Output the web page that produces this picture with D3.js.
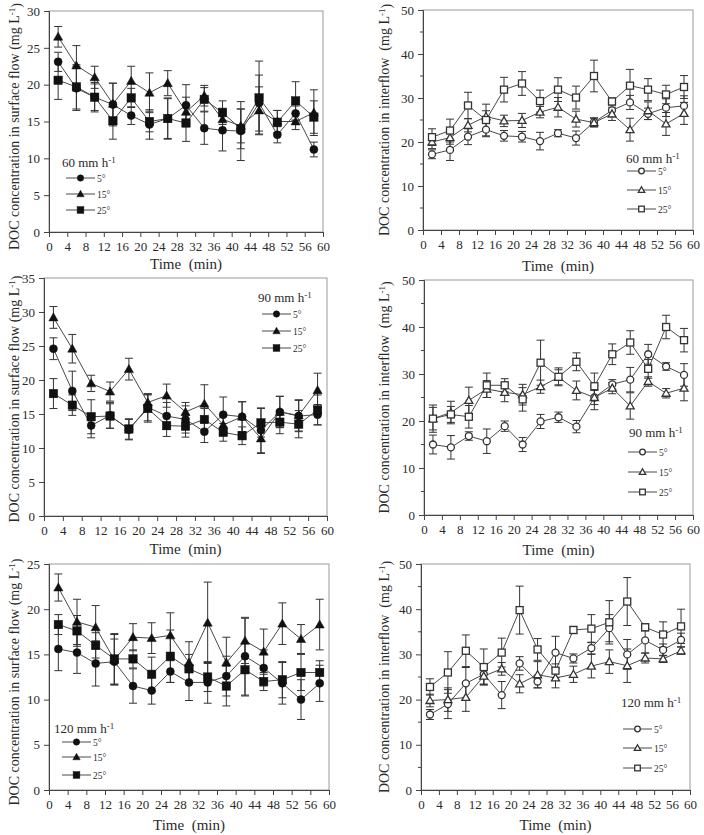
<!DOCTYPE html>
<html>
<head>
<meta charset="utf-8">
<script src="https://cdn.jsdelivr.net/npm/d3@7"></script>
<style>
body { margin: 0; background: #fff; }
svg text { font-family: "Liberation Serif", "Times New Roman", serif; fill: #2a2a2a; }
</style>
</head>
<body>
<script>
var times = [2, 6, 10, 14, 18, 22, 26, 30, 34, 38, 42, 46, 50, 54, 58],
    xTicks = d3.range(0, 61, 4),
    slopes = ["5°", "15°", "25°"]

// surface flow, 60 mm h-1
var sf60_5 = [23.1, 19.5, 18.3, 17.3, 15.8, 14.6, 15.4, 17.2, 14.1, 13.8, 13.7, 17.5, 13.2, 16.1, 11.2],
    sf60_5e = [1.3, 3.0, 1.8, 2.9, 1.2, 2.0, 2.8, 2.8, 2.2, 2.8, 4.0, 3.8, 1.1, 1.0, 1.0],
    sf60_15 = [26.5, 22.6, 21.0, 17.4, 20.5, 18.9, 20.2, 16.3, 18.5, 15.3, 14.4, 16.5, 15.0, 15.0, 16.2],
    sf60_15e = [1.4, 2.7, 1.5, 2.8, 2.0, 2.7, 1.7, 2.0, 1.4, 1.5, 2.3, 3.2, 1.5, 1.1, 3.1],
    sf60_25 = [20.6, 19.7, 18.3, 15.1, 18.2, 15.0, 15.4, 14.8, 18.0, 16.2, 14.0, 18.2, 14.9, 17.8, 15.6],
    sf60_25e = [2.6, 3.0, 2.0, 2.5, 1.3, 1.4, 2.7, 2.5, 1.6, 1.6, 2.7, 5.0, 1.6, 2.6, 2.2]

// interflow, 60 mm h-1
var if60_5 = [17.2, 18.2, 21.2, 22.8, 21.4, 21.2, 20.2, 22.0, 20.9, 24.5, 27.2, 29.0, 26.4, 27.8, 28.2],
    if60_5e = [1.0, 2.4, 1.8, 1.6, 1.2, 1.2, 2.0, 0.8, 1.6, 1.0, 1.5, 1.6, 1.3, 2.0, 2.3],
    if60_15 = [20.0, 21.0, 23.8, 25.8, 24.8, 24.9, 26.8, 27.9, 25.2, 24.4, 26.4, 22.8, 27.1, 24.1, 26.5],
    if60_15e = [1.5, 1.5, 1.5, 1.3, 1.3, 1.6, 1.3, 2.2, 1.8, 1.0, 1.5, 2.6, 2.0, 2.6, 2.5],
    if60_25 = [21.1, 22.6, 28.3, 25.0, 31.9, 33.3, 29.3, 31.9, 30.1, 35.0, 29.2, 32.8, 31.9, 30.8, 32.5],
    if60_25e = [1.9, 2.6, 3.0, 3.6, 2.8, 2.7, 2.5, 2.7, 2.6, 3.6, 0.8, 3.7, 2.5, 2.1, 2.6]

// surface flow, 90 mm h-1
var sf90_5 = [24.6, 18.4, 13.3, 14.8, 12.7, 16.0, 14.7, 14.2, 12.4, 14.9, 14.6, 12.6, 15.3, 14.7, 14.9],
    sf90_5e = [1.6, 2.9, 1.8, 1.9, 1.5, 2.0, 2.0, 2.0, 1.6, 2.6, 2.2, 3.3, 2.3, 2.3, 1.5],
    sf90_15 = [29.2, 24.6, 19.5, 18.3, 21.6, 16.7, 17.7, 15.3, 16.5, 13.4, 14.6, 11.4, 15.3, 14.8, 18.5],
    sf90_15e = [1.6, 2.1, 1.2, 1.4, 1.6, 1.2, 1.7, 1.4, 2.8, 1.3, 2.2, 2.2, 2.3, 2.3, 2.5],
    sf90_25 = [18.0, 16.3, 14.6, 14.7, 12.8, 15.8, 13.3, 13.2, 14.2, 12.3, 11.8, 13.7, 13.8, 13.5, 15.6],
    sf90_25e = [2.2, 1.5, 2.5, 1.8, 1.5, 2.0, 1.6, 1.6, 1.6, 1.3, 1.3, 2.1, 1.7, 2.0, 2.2]

// interflow, 90 mm h-1
var if90_5 = [15.0, 14.4, 16.8, 15.7, 18.9, 15.0, 19.9, 20.8, 18.8, 25.0, 27.8, 28.8, 34.2, 31.6, 29.8],
    if90_5e = [2.0, 2.5, 0.9, 2.6, 1.1, 1.5, 1.5, 1.1, 1.3, 2.6, 1.0, 2.6, 2.1, 0.8, 2.4],
    if90_15 = [20.5, 21.8, 24.4, 26.8, 26.1, 25.6, 27.3, 29.3, 26.5, 25.0, 27.0, 23.2, 28.4, 25.9, 27.0],
    if90_15e = [2.4, 2.4, 2.8, 1.8, 2.0, 2.2, 1.4, 1.6, 2.0, 1.5, 1.2, 2.8, 1.0, 1.0, 2.7],
    if90_25 = [20.5, 21.4, 20.9, 27.6, 27.6, 24.6, 32.4, 29.4, 32.6, 27.4, 34.2, 36.7, 31.1, 40.0, 37.2],
    if90_25e = [2.9, 1.7, 2.4, 2.6, 1.4, 2.5, 4.8, 1.9, 1.9, 2.8, 2.2, 2.5, 2.0, 2.5, 2.5]

// surface flow, 120 mm h-1
var sf120_5 = [15.6, 15.2, 14.0, 14.2, 11.5, 11.0, 13.1, 11.9, 11.9, 12.6, 14.8, 13.5, 11.8, 10.0, 11.8],
    sf120_5e = [2.4, 2.3, 2.5, 2.5, 1.9, 1.5, 1.2, 2.0, 2.3, 2.2, 4.3, 2.0, 2.3, 2.2, 2.0],
    sf120_15 = [22.4, 18.6, 18.0, 14.4, 16.9, 16.8, 17.1, 14.1, 18.5, 14.1, 16.5, 15.3, 18.4, 16.7, 18.3],
    sf120_15e = [1.5, 2.5, 2.4, 2.8, 1.5, 1.7, 2.5, 2.3, 4.5, 2.8, 2.5, 2.5, 2.3, 1.6, 2.8],
    sf120_25 = [18.3, 17.6, 16.0, 14.5, 14.5, 12.8, 14.8, 13.4, 12.5, 11.5, 13.3, 12.0, 12.2, 13.0, 13.0],
    sf120_25e = [1.1, 1.7, 1.4, 2.8, 1.0, 1.9, 2.9, 1.6, 1.6, 2.2, 2.9, 1.0, 2.0, 2.0, 1.3]

// interflow, 120 mm h-1
var if120_5 = [16.7, 19.0, 23.6, 25.6, 21.0, 28.0, 24.0, 30.4, 29.1, 31.4, 35.8, 30.0, 33.1, 31.0, 33.2],
    if120_5e = [1.1, 3.2, 3.5, 2.2, 3.0, 1.5, 1.4, 3.6, 1.0, 1.3, 3.0, 3.3, 2.8, 1.3, 1.5],
    if120_15 = [19.8, 20.0, 20.5, 25.2, 26.8, 23.5, 25.5, 24.8, 25.6, 27.4, 28.4, 27.5, 29.2, 29.0, 30.8],
    if120_15e = [1.4, 2.6, 3.1, 1.8, 1.4, 2.0, 2.9, 2.2, 1.8, 2.6, 2.6, 3.7, 1.1, 0.8, 0.8],
    if120_25 = [22.8, 26.0, 30.8, 27.2, 30.4, 39.8, 31.1, 26.4, 35.4, 35.7, 37.1, 41.7, 36.0, 34.4, 36.2],
    if120_25e = [1.8, 4.6, 3.5, 4.0, 3.2, 5.3, 2.4, 1.5, 0.8, 3.1, 4.8, 5.3, 0.8, 2.8, 3.8]

var panels = [
  { l: 49, r: 323, t: 11, b: 232, ymax: 30, step: 5, minor: false, flow: "surface flow", rate: "60",
    open: false, series: [[sf60_5, sf60_5e], [sf60_15, sf60_15e], [sf60_25, sf60_25e]],
    labX: 14, labDy: 5, titleDy: 37, leg: { x: 62, y: 167, lx: 66, rows: [178, 194, 210] } },
  { l: 423, r: 693, t: 10, b: 230, ymax: 50, step: 10, minor: true, flow: "interflow", rate: "60",
    open: true, series: [[if60_5, if60_5e], [if60_15, if60_15e], [if60_25, if60_25e]],
    labX: 384, labDy: 0, titleDy: 41, leg: { x: 626, y: 163, lx: 627, rows: [171, 190, 209] } },
  { l: 44, r: 327, t: 278, b: 516, ymax: 35, step: 5, minor: false, flow: "surface flow", rate: "90",
    open: false, series: [[sf90_5, sf90_5e], [sf90_15, sf90_15e], [sf90_25, sf90_25e]],
    labX: 14, labDy: 2, titleDy: 38, leg: { x: 258, y: 302, lx: 262, rows: [314, 331, 348] } },
  { l: 424, r: 693, t: 280, b: 515, ymax: 50, step: 10, minor: true, flow: "interflow", rate: "90",
    open: true, series: [[if90_5, if90_5e], [if90_15, if90_15e], [if90_25, if90_25e]],
    labX: 384, labDy: 0, titleDy: 40, leg: { x: 629, y: 437, lx: 628, rows: [452, 472, 492] } },
  { l: 49, r: 329, t: 564, b: 790, ymax: 25, step: 5, minor: false, flow: "surface flow", rate: "120",
    open: false, series: [[sf120_5, sf120_5e], [sf120_15, sf120_15e], [sf120_25, sf120_25e]],
    labX: 14, labDy: 5, titleDy: 40, leg: { x: 54, y: 733, lx: 62, rows: [742, 757, 775] } },
  { l: 421, r: 690, t: 564, b: 790, ymax: 50, step: 10, minor: true, flow: "interflow", rate: "120",
    open: true, series: [[if120_5, if120_5e], [if120_15, if120_15e], [if120_25, if120_25e]],
    labX: 384, labDy: 0, titleDy: 40, leg: { x: 621, y: 707, lx: 623, rows: [729, 748, 768] } }
]

var svg = d3.select("body").append("svg")
    .attr("width", 704)
    .attr("height", 835)

var lineCol = "#4a4a4a"

function drawMarker(g, kind, open, cx, cy, sc) {
  sc = sc || 1
  var fill = open ? "#fff" : "#111"
  var stroke = open ? "#333" : "#111"
  var sw = open ? 1.3 : 0.5
  if (kind == 0) {
    g.append("circle").attr("cx", cx).attr("cy", cy).attr("r", (open ? 3.5 : 4) * sc)
      .attr("fill", fill).attr("stroke", stroke).attr("stroke-width", sw)
  } else if (kind == 1) {
    var s = (open ? 4 : 4.6) * sc
    g.append("path")
      .attr("d", "M" + cx + "," + (cy - s) + "L" + (cx + s) + "," + (cy + s * 0.75) + "L" + (cx - s) + "," + (cy + s * 0.75) + "Z")
      .attr("fill", fill).attr("stroke", stroke).attr("stroke-width", sw)
  } else {
    var h = (open ? 3.5 : 4.2) * sc
    g.append("rect").attr("x", cx - h).attr("y", cy - h).attr("width", 2 * h).attr("height", 2 * h)
      .attr("fill", fill).attr("stroke", stroke).attr("stroke-width", sw)
  }
}

panels.forEach(function(p) {
  var x = d3.scaleLinear().domain([0, 60]).range([p.l, p.r])
  var y = d3.scaleLinear().domain([0, p.ymax]).range([p.b, p.t])
  var g = svg.append("g")

  // frame
  g.append("rect").attr("x", p.l).attr("y", p.t).attr("width", p.r - p.l).attr("height", p.b - p.t)
    .attr("fill", "none").attr("stroke", "#9a9a9a").attr("stroke-width", 1)

  // minor y ticks
  if (p.minor) {
    var minors = d3.range(p.step / 2, p.ymax, p.step)
    g.selectAll(".minor").data(minors).enter().append("line")
      .attr("x1", p.l - 3).attr("x2", p.l)
      .attr("y1", function(d) { return y(d) }).attr("y2", function(d) { return y(d) })
      .attr("stroke", "#444")
  }

  var yAxis = g.append("g").attr("transform", "translate(" + p.l + ",0)")
    .call(d3.axisLeft(y).tickValues(d3.range(0, p.ymax + 0.01, p.step)).tickSize(5).tickPadding(4))
  var xAxis = g.append("g").attr("transform", "translate(0," + p.b + ")")
    .call(d3.axisBottom(x).tickValues(xTicks).tickSize(5).tickPadding(5))
  ;[yAxis, xAxis].forEach(function(a) {
    a.select(".domain").attr("stroke", "#444")
    a.selectAll(".tick line").attr("stroke", "#444")
    a.selectAll("text").style("font-family", "Liberation Serif").style("font-size", "13px").attr("fill", "#2a2a2a")
  })

  // x title
  g.append("text").attr("x", (p.l + p.r) / 2).attr("y", p.b + p.titleDy)
    .attr("text-anchor", "middle").style("font-size", "15px")
    .text("Time\u2002(min)")

  // y title
  var yt = g.append("text")
    .attr("transform", "translate(" + p.labX + "," + ((p.t + p.b) / 2 + p.labDy) + ") rotate(-90)")
    .attr("text-anchor", "middle").attr("dy", "0.35em").style("font-size", "14px")
  yt.append("tspan").text("DOC concentration in " + p.flow + (p.open ? "\u2002(mg L" : " (mg L"))
  yt.append("tspan").attr("dy", "-0.4em").style("font-size", "9px").text("-1")
  yt.append("tspan").attr("dy", "0.4em").text(")")

  // series: lines, error bars, markers
  p.series.forEach(function(s, k) {
    var vals = s[0], errs = s[1]
    var pts = times.map(function(t, i) { return { t: t, v: vals[i], e: errs[i] } })
    g.append("path").datum(pts)
      .attr("d", d3.line().x(function(d) { return x(d.t) }).y(function(d) { return y(d.v) }))
      .attr("fill", "none").attr("stroke", lineCol).attr("stroke-width", 1)
    var eb = g.append("g").attr("stroke", "#333").attr("stroke-width", 1)
    pts.forEach(function(d) {
      eb.append("line").attr("x1", x(d.t)).attr("x2", x(d.t)).attr("y1", y(d.v - d.e)).attr("y2", y(d.v + d.e))
      eb.append("line").attr("x1", x(d.t) - 4).attr("x2", x(d.t) + 4).attr("y1", y(d.v - d.e)).attr("y2", y(d.v - d.e))
      eb.append("line").attr("x1", x(d.t) - 4).attr("x2", x(d.t) + 4).attr("y1", y(d.v + d.e)).attr("y2", y(d.v + d.e))
    })
  })
  p.series.forEach(function(s, k) {
    times.forEach(function(t, i) { drawMarker(g, k, p.open, x(t), y(s[0][i])) })
  })

  // legend
  var lt = g.append("text").attr("x", p.leg.x).attr("y", p.leg.y).style("font-size", "13px")
  lt.append("tspan").text(p.rate + " mm h")
  lt.append("tspan").attr("dy", "-0.4em").style("font-size", "9px").text("-1")
  p.leg.rows.forEach(function(ry, k) {
    g.append("line").attr("x1", p.leg.lx).attr("x2", p.leg.lx + 29).attr("y1", ry).attr("y2", ry)
      .attr("stroke", lineCol)
    drawMarker(g, k, p.open, p.leg.lx + 14.5, ry, 0.8)
    g.append("text").attr("x", p.leg.lx + 31).attr("y", ry + 3.5).style("font-size", "9.5px").text(slopes[k])
  })
})
</script>
</body>
</html>
